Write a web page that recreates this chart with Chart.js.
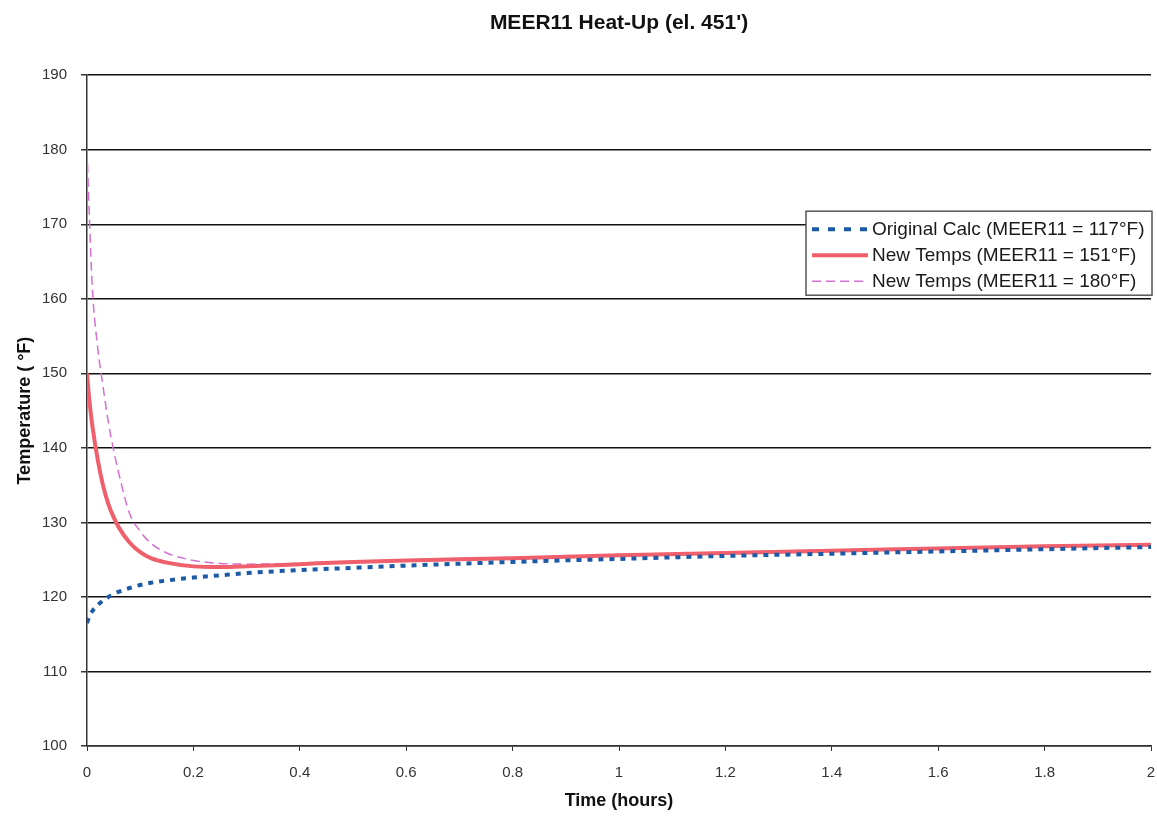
<!DOCTYPE html>
<html>
<head>
<meta charset="utf-8">
<script src="https://cdn.jsdelivr.net/npm/chart.js@4"></script>
<style>
  html, body { margin: 0; padding: 0; background: #fff; }
  #wrap { width: 1157px; height: 818px; }
</style>
</head>
<body>
<div id="wrap"><canvas id="mycanvas"></canvas></div>
<script>
// time in hours
var hours = [0, 0.005, 0.01, 0.02, 0.03, 0.04, 0.05, 0.06, 0.08, 0.1, 0.12, 0.15, 0.2, 0.25, 0.3, 0.4, 0.5, 0.6, 0.8, 1.0, 1.2, 1.4, 1.6, 1.8, 2.0];

// temperatures (F)
var originalCalc = [116.5, 117.5, 118.1, 118.9, 119.5, 120.0, 120.4, 120.7, 121.2, 121.6, 121.9, 122.2, 122.6, 122.9, 123.2, 123.6, 123.9, 124.2, 124.7, 125.1, 125.5, 125.8, 126.1, 126.4, 126.7];
var newTemps151 = [150, 146, 143, 138.5, 135, 132.5, 130.7, 129.3, 127.3, 126.0, 125.2, 124.6, 124.1, 124.0, 124.1, 124.4, 124.7, 124.9, 125.2, 125.6, 125.9, 126.2, 126.5, 126.8, 127.0];
var newTemps180 = [180, 170, 161.5, 153.5, 148.3, 143.5, 139.7, 136.5, 131.2, 128.8, 127.2, 125.9, 124.9, 124.5, 124.4, 124.5, 124.7, 124.9, 125.3, 125.6, 126.0, 126.3, 126.5, 126.8, 127.1];

var seriesLabels = ['Original Calc (MEER11 = 117\u00b0F)', 'New Temps (MEER11 = 151\u00b0F)', 'New Temps (MEER11 = 180\u00b0F)'];
var xTicks = [0, 0.2, 0.4, 0.6, 0.8, 1, 1.2, 1.4, 1.6, 1.8, 2];
var yTicks = [100, 110, 120, 130, 140, 150, 160, 170, 180, 190];

var FONT = '"Liberation Sans", Arial, sans-serif';

function pts(ys) {
	var out = [];
	for (var i in hours) {
		out.push({x: hours[i], y: ys[i]});
	}
	return out;
}

// legend drawn inside the plot area, top right
var insideLegend = {
	id: 'insideLegend',
	afterDatasetsDraw: function(chart) {
		var ctx = chart.ctx;
		var area = chart.chartArea;
		var w = 346, h = 84;
		var x0 = area.right + 1 - w;
		var y0 = area.top + 136;
		ctx.save();
		ctx.fillStyle = '#fff';
		ctx.fillRect(x0, y0, w, h);
		ctx.strokeStyle = '#555';
		ctx.lineWidth = 1.5;
		ctx.strokeRect(x0, y0, w, h);
		ctx.font = '19px ' + FONT;
		ctx.textBaseline = 'middle';
		chart.data.datasets.forEach(function(ds, i) {
			var cy = y0 + 18 + i * 26;
			ctx.beginPath();
			ctx.strokeStyle = ds.borderColor;
			ctx.lineWidth = ds.legendWidth;
			ctx.setLineDash(ds.legendDash);
			ctx.moveTo(x0 + 6, cy);
			ctx.lineTo(x0 + 62, cy);
			ctx.stroke();
			ctx.setLineDash([]);
			ctx.fillStyle = '#1a1a1a';
			ctx.fillText(ds.label, x0 + 66, cy + 1);
		});
		ctx.restore();
	}
};

var chartdata = {
	datasets: [
		{
			label: seriesLabels[0],
			data: pts(originalCalc),
			borderColor: '#1d5aa6',
			borderWidth: 4,
			borderDash: [5, 6],
			legendWidth: 4,
			legendDash: [7, 9],
			pointRadius: 0,
			cubicInterpolationMode: 'monotone'
		},
		{
			label: seriesLabels[1],
			data: pts(newTemps151),
			borderColor: '#ef5f6c',
			borderWidth: 4,
			legendWidth: 4,
			legendDash: [],
			pointRadius: 0,
			cubicInterpolationMode: 'monotone'
		},
		{
			label: seriesLabels[2],
			data: pts(newTemps180),
			borderColor: '#d56fd2',
			borderWidth: 1.5,
			borderDash: [9, 5],
			legendWidth: 1.5,
			legendDash: [9, 5],
			pointRadius: 0,
			cubicInterpolationMode: 'monotone'
		}
	]
};

var ctx = document.getElementById('mycanvas');

var lineGraph = new Chart(ctx, {
	type: 'line',
	data: chartdata,
	plugins: [insideLegend],
	options: {
		responsive: true,
		maintainAspectRatio: false,
		animation: false,
		layout: { padding: { left: 0, right: 6, top: 0, bottom: 4 } },
		plugins: {
			legend: { display: false },
			tooltip: { enabled: false },
			title: {
				display: true,
				fullSize: false,
				text: "MEER11 Heat-Up (el. 451')",
				color: '#111',
				font: { family: FONT, size: 21, weight: 'bold' },
				padding: { top: 11, bottom: 39 }
			}
		},
		scales: {
			x: {
				type: 'linear',
				min: 0,
				max: 2,
				afterBuildTicks: function(scale) {
					scale.ticks = xTicks.map(function(v) { return {value: v}; });
				},
				ticks: {
					color: '#333',
					font: { family: FONT, size: 15 },
					padding: 13,
					maxRotation: 0,
					callback: function(v) { return String(v); }
				},
				grid: { drawOnChartArea: false, tickLength: 5, color: '#333' },
				border: { display: true, color: '#333', width: 1.5 },
				title: {
					display: true,
					text: 'Time (hours)',
					color: '#111',
					font: { family: FONT, size: 18, weight: 'bold' },
					padding: { top: 4, bottom: 2 }
				},
				afterFit: function(scale) {
					scale.height = 68;
					scale.paddingLeft = 0;
					scale.paddingRight = 0;
				}
			},
			y: {
				min: 100,
				max: 190,
				afterBuildTicks: function(scale) {
					scale.ticks = yTicks.map(function(v) { return {value: v}; });
				},
				ticks: {
					color: '#333',
					font: { family: FONT, size: 15 },
					padding: 14
				},
				grid: { color: '#111', lineWidth: 1.5, tickLength: 6, tickColor: '#333' },
				border: { display: true, color: '#333', width: 1.5 },
				title: {
					display: true,
					text: 'Temperature ( \u00b0F)',
					color: '#111',
					font: { family: FONT, size: 18, weight: 'bold' },
					padding: { top: 14, bottom: 0 }
				},
				afterFit: function(scale) { scale.width = 87; }
			}
		}
	}
});
</script>
</body>
</html>
